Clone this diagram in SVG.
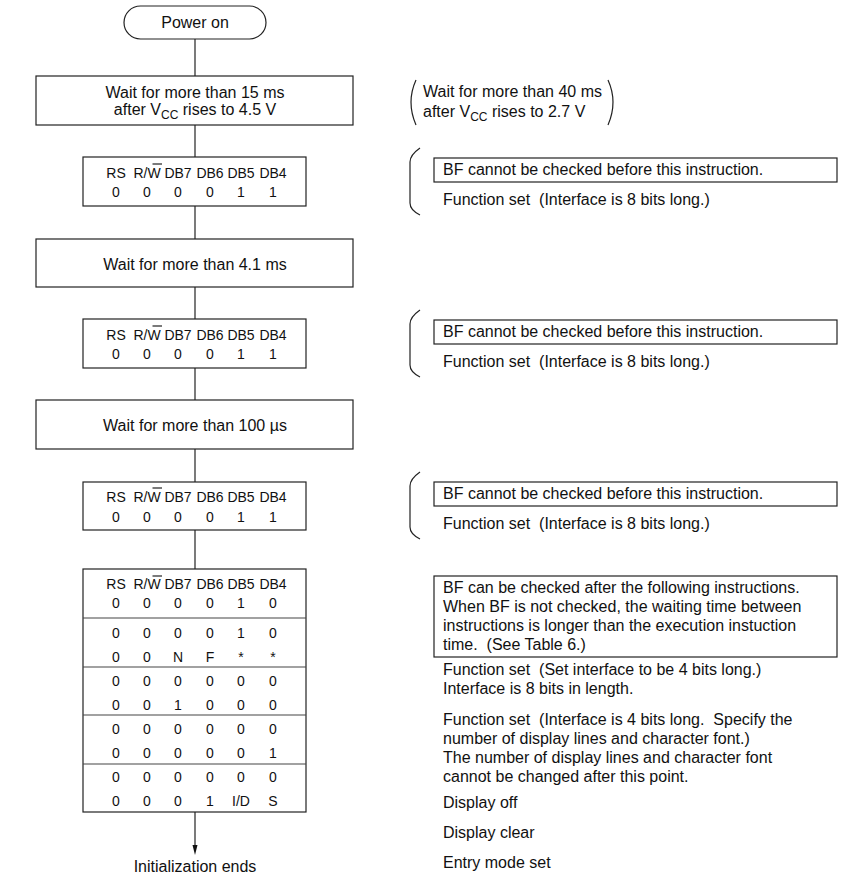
<svg xmlns="http://www.w3.org/2000/svg" width="860" height="881" viewBox="0 0 860 881">
<style>
text{font-family:"Liberation Sans",Arial,sans-serif;font-size:16px;fill:#111}
.t text{font-size:14px}
.c{text-anchor:middle}
.box{fill:#fff;stroke:#222;stroke-width:1.2}
.ln{stroke:#222;stroke-width:1.2;fill:none}
.dv{stroke:#444;stroke-width:1.2}
.sub{font-size:12px}
</style>
<defs>
<marker id="arr" markerWidth="10" markerHeight="16" refX="8" refY="4" orient="auto" markerUnits="userSpaceOnUse" viewBox="0 0 16 8">
<path d="M0,0 L16,4 L0,8 z" fill="#111"/>
</marker>
</defs>
<rect width="860" height="881" fill="#fff"/>

<g id="connectors">
<line class="ln" x1="195" y1="39" x2="195" y2="76"/>
<line class="ln" x1="195" y1="125" x2="195" y2="157"/>
<line class="ln" x1="195" y1="206" x2="195" y2="239"/>
<line class="ln" x1="195" y1="287" x2="195" y2="319"/>
<line class="ln" x1="195" y1="368" x2="195" y2="400"/>
<line class="ln" x1="195" y1="449" x2="195" y2="482"/>
<line class="ln" x1="195" y1="530" x2="195" y2="569"/>
<line class="ln" x1="195" y1="812" x2="195" y2="850" marker-end="url(#arr)"/>
</g>

<g id="power-on">
<rect class="box" x="124" y="6" width="142" height="33" rx="16.5"/>
<text class="c" x="195" y="28">Power on</text>
</g>

<g id="wait-15ms">
<rect class="box" x="36" y="76" width="317" height="49"/>
<text class="c" x="195" y="98">Wait for more than 15 ms</text>
<text class="c" x="195" y="115">after V<tspan class="sub" dy="3.5">CC</tspan><tspan dy="-3.5"> rises to 4.5 V</tspan></text>
</g>

<g id="fs1" class="t">
<rect class="box" x="83" y="157" width="223" height="49"/>
<g class="c">
<text x="116" y="178">RS</text><text x="147" y="178">R/W</text><text x="178" y="178">DB7</text><text x="210" y="178">DB6</text><text x="241" y="178">DB5</text><text x="273" y="178">DB4</text>
<text x="116" y="197">0</text><text x="147" y="197">0</text><text x="178" y="197">0</text><text x="210" y="197">0</text><text x="241" y="197">1</text><text x="273" y="197">1</text>
</g>
<line class="ln" x1="152.5" y1="164" x2="162" y2="164"/>
</g>

<g id="wait-4ms">
<rect class="box" x="36" y="239" width="317" height="48"/>
<text class="c" x="195" y="270">Wait for more than 4.1 ms</text>
</g>

<g id="fs2" class="t">
<rect class="box" x="83" y="319" width="223" height="49"/>
<g class="c">
<text x="116" y="340">RS</text><text x="147" y="340">R/W</text><text x="178" y="340">DB7</text><text x="210" y="340">DB6</text><text x="241" y="340">DB5</text><text x="273" y="340">DB4</text>
<text x="116" y="359">0</text><text x="147" y="359">0</text><text x="178" y="359">0</text><text x="210" y="359">0</text><text x="241" y="359">1</text><text x="273" y="359">1</text>
</g>
<line class="ln" x1="152.5" y1="326" x2="162" y2="326"/>
</g>

<g id="wait-100us">
<rect class="box" x="36" y="400" width="317" height="49"/>
<text class="c" x="195" y="431">Wait for more than 100 µs</text>
</g>

<g id="fs3" class="t">
<rect class="box" x="83" y="482" width="223" height="48"/>
<g class="c">
<text x="116" y="502">RS</text><text x="147" y="502">R/W</text><text x="178" y="502">DB7</text><text x="210" y="502">DB6</text><text x="241" y="502">DB5</text><text x="273" y="502">DB4</text>
<text x="116" y="522">0</text><text x="147" y="522">0</text><text x="178" y="522">0</text><text x="210" y="522">0</text><text x="241" y="522">1</text><text x="273" y="522">1</text>
</g>
<line class="ln" x1="152.5" y1="488" x2="162" y2="488"/>
</g>

<g id="init-table" class="t">
<rect class="box" x="83" y="569" width="223" height="243"/>
<line class="dv" x1="83" y1="618" x2="306" y2="618"/>
<line class="dv" x1="83" y1="667" x2="306" y2="667"/>
<line class="dv" x1="83" y1="715" x2="306" y2="715"/>
<line class="dv" x1="83" y1="764" x2="306" y2="764"/>
<g class="c">
<text x="116" y="589">RS</text><text x="147" y="589">R/W</text><text x="178" y="589">DB7</text><text x="210" y="589">DB6</text><text x="241" y="589">DB5</text><text x="273" y="589">DB4</text>
<text x="116" y="608">0</text><text x="147" y="608">0</text><text x="178" y="608">0</text><text x="210" y="608">0</text><text x="241" y="608">1</text><text x="273" y="608">0</text>
<text x="116" y="638">0</text><text x="147" y="638">0</text><text x="178" y="638">0</text><text x="210" y="638">0</text><text x="241" y="638">1</text><text x="273" y="638">0</text>
<text x="116" y="662">0</text><text x="147" y="662">0</text><text x="178" y="662">N</text><text x="210" y="662">F</text><text x="241" y="662">*</text><text x="273" y="662">*</text>
<text x="116" y="686">0</text><text x="147" y="686">0</text><text x="178" y="686">0</text><text x="210" y="686">0</text><text x="241" y="686">0</text><text x="273" y="686">0</text>
<text x="116" y="710">0</text><text x="147" y="710">0</text><text x="178" y="710">1</text><text x="210" y="710">0</text><text x="241" y="710">0</text><text x="273" y="710">0</text>
<text x="116" y="734">0</text><text x="147" y="734">0</text><text x="178" y="734">0</text><text x="210" y="734">0</text><text x="241" y="734">0</text><text x="273" y="734">0</text>
<text x="116" y="758">0</text><text x="147" y="758">0</text><text x="178" y="758">0</text><text x="210" y="758">0</text><text x="241" y="758">0</text><text x="273" y="758">1</text>
<text x="116" y="782">0</text><text x="147" y="782">0</text><text x="178" y="782">0</text><text x="210" y="782">0</text><text x="241" y="782">0</text><text x="273" y="782">0</text>
<text x="116" y="806">0</text><text x="147" y="806">0</text><text x="178" y="806">0</text><text x="210" y="806">1</text><text x="241" y="806">I/D</text><text x="273" y="806">S</text>
</g>
<line class="ln" x1="152.5" y1="576" x2="162" y2="576"/>
</g>

<g id="init-ends">
<text class="c" x="195" y="872">Initialization ends</text>
</g>

<g id="note-40ms">
<path class="ln" d="M416,80 Q406,102 416,125"/>
<path class="ln" d="M608,80 Q618,102 608,125"/>
<text x="423" y="97">Wait for more than 40 ms</text>
<text x="423" y="117">after V<tspan class="sub" dy="3.5">CC</tspan><tspan dy="-3.5"> rises to 2.7 V</tspan></text>
</g>

<g id="note-fs1">
<path class="ln" d="M420,148 Q410,155 410,162 L410,203 Q410,210 420,215"/>
<rect class="box" x="434" y="158" width="403" height="24"/>
<text x="443" y="175">BF cannot be checked before this instruction.</text>
<text x="443" y="205" xml:space="preserve">Function set  (Interface is 8 bits long.)</text>
</g>

<g id="note-fs2">
<path class="ln" d="M420,310 Q410,317 410,324 L410,365 Q410,372 420,377"/>
<rect class="box" x="434" y="320" width="403" height="24"/>
<text x="443" y="337">BF cannot be checked before this instruction.</text>
<text x="443" y="367" xml:space="preserve">Function set  (Interface is 8 bits long.)</text>
</g>

<g id="note-fs3">
<path class="ln" d="M420,472 Q410,479 410,486 L410,527 Q410,534 420,539"/>
<rect class="box" x="434" y="482" width="403" height="24"/>
<text x="443" y="499">BF cannot be checked before this instruction.</text>
<text x="443" y="529" xml:space="preserve">Function set  (Interface is 8 bits long.)</text>
</g>

<g id="note-table">
<rect class="box" x="434" y="576" width="403" height="81"/>
<text x="443" y="593">BF can be checked after the following instructions.</text>
<text x="443" y="612">When BF is not checked, the waiting time between</text>
<text x="443" y="631">instructions is longer than the execution instuction</text>
<text x="443" y="650" xml:space="preserve">time.  (See Table 6.)</text>
<text x="443" y="675" xml:space="preserve">Function set  (Set interface to be 4 bits long.)</text>
<text x="443" y="694">Interface is 8 bits in length.</text>
<text x="443" y="725" xml:space="preserve">Function set  (Interface is 4 bits long.  Specify the</text>
<text x="443" y="744">number of display lines and character font.)</text>
<text x="443" y="763">The number of display lines and character font</text>
<text x="443" y="782">cannot be changed after this point.</text>
<text x="443" y="808">Display off</text>
<text x="443" y="838">Display clear</text>
<text x="443" y="868">Entry mode set</text>
</g>
</svg>
